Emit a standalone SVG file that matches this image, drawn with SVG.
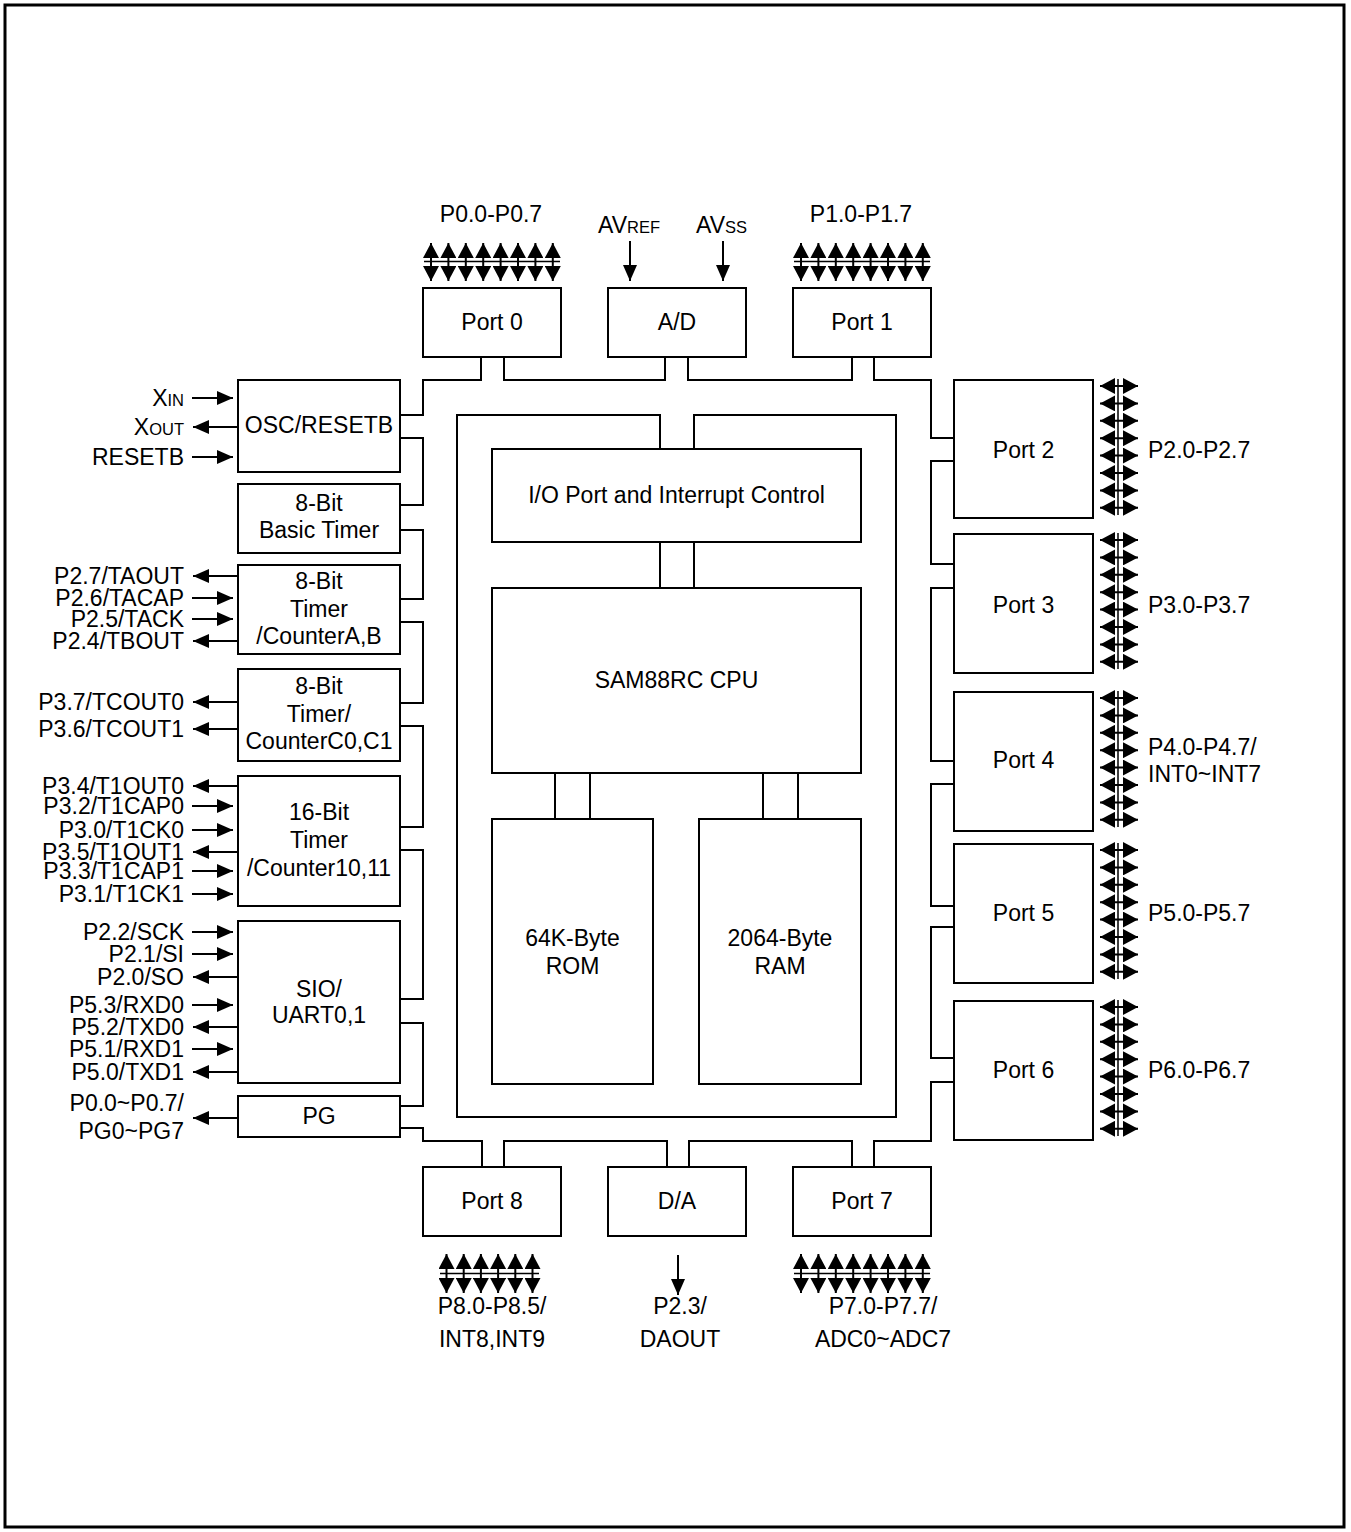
<svg xmlns="http://www.w3.org/2000/svg" width="1351" height="1532" viewBox="0 0 1351 1532">
<style>
text{font-family:"Liberation Sans",Arial,Helvetica,sans-serif;font-size:23px;fill:#000}
.m{text-anchor:middle}
.e{text-anchor:end}
.s{font-size:16.5px}
.box{fill:#fff;stroke:#000;stroke-width:2}
.w{fill:none;stroke:#000;stroke-width:2}
.t{fill:none;stroke:#000;stroke-width:1.5}
.a{stroke:#000;stroke-width:2;fill:none;marker-end:url(#ah)}
.d{stroke:#000;stroke-width:2;fill:none;marker-start:url(#dh);marker-end:url(#dh)}
</style>
<defs>
<marker id="ah" viewBox="0 0 16 14" refX="16" refY="7" markerWidth="16" markerHeight="14" markerUnits="userSpaceOnUse" orient="auto-start-reverse"><path d="M0,0L16,7L0,14z"/></marker>
<marker id="dh" viewBox="0 0 15 16" refX="15" refY="8" markerWidth="15" markerHeight="16" markerUnits="userSpaceOnUse" orient="auto-start-reverse"><path d="M0,0L15,8L0,16z"/></marker>
</defs>
<rect x="5" y="5" width="1339" height="1522" fill="none" stroke="#000" stroke-width="3"/>

<g id="connectors">
<path class="w" d="M481,357V380H423V415H400"/>
<path class="w" d="M504,357V380H665V357"/>
<path class="w" d="M688,357V380H852V357"/>
<path class="w" d="M874,357V380H931V438H954"/>
<path class="w" d="M400,438H423V505H400"/>
<path class="w" d="M400,530H423V599H400"/>
<path class="w" d="M400,622H423V703H400"/>
<path class="w" d="M400,726H423V827H400"/>
<path class="w" d="M400,850H423V999H400"/>
<path class="w" d="M400,1023H423V1106H400"/>
<path class="w" d="M400,1128H423V1141H482V1167"/>
<path class="w" d="M504,1167V1141H667V1167"/>
<path class="w" d="M689,1167V1141H852V1167"/>
<path class="w" d="M874,1167V1141H931V1082H954"/>
<path class="w" d="M954,1058H931V927H954"/>
<path class="w" d="M954,906H931V784H954"/>
<path class="w" d="M954,761H931V588H954"/>
<path class="w" d="M954,564H931V461H954"/>
<path class="w" d="M660,449V415H457V1117H896V415H694V449"/>
<path class="w" d="M660,542V588M694,542V588M555,773V819M590,773V819M763,773V819M798,773V819"/>
</g>

<g id="signals">
<line class="a" x1="630" y1="241" x2="630" y2="281"/>
<line class="a" x1="723" y1="241" x2="723" y2="281"/>
<line class="a" x1="678" y1="1255" x2="678" y2="1295"/>
<line class="a" x1="192" y1="398" x2="233" y2="398"/>
<line class="a" x1="238" y1="427" x2="193" y2="427"/>
<line class="a" x1="192" y1="457" x2="233" y2="457"/>
<line class="a" x1="238" y1="576" x2="193" y2="576"/>
<line class="a" x1="192" y1="598" x2="233" y2="598"/>
<line class="a" x1="192" y1="619" x2="233" y2="619"/>
<line class="a" x1="238" y1="641" x2="193" y2="641"/>
<line class="a" x1="238" y1="702" x2="193" y2="702"/>
<line class="a" x1="238" y1="729" x2="193" y2="729"/>
<line class="a" x1="238" y1="786" x2="193" y2="786"/>
<line class="a" x1="192" y1="806" x2="233" y2="806"/>
<line class="a" x1="192" y1="830" x2="233" y2="830"/>
<line class="a" x1="238" y1="852" x2="193" y2="852"/>
<line class="a" x1="192" y1="871" x2="233" y2="871"/>
<line class="a" x1="192" y1="894" x2="233" y2="894"/>
<line class="a" x1="192" y1="932" x2="233" y2="932"/>
<line class="a" x1="192" y1="954" x2="233" y2="954"/>
<line class="a" x1="238" y1="977" x2="193" y2="977"/>
<line class="a" x1="192" y1="1005" x2="233" y2="1005"/>
<line class="a" x1="238" y1="1027" x2="193" y2="1027"/>
<line class="a" x1="192" y1="1049" x2="233" y2="1049"/>
<line class="a" x1="238" y1="1072" x2="193" y2="1072"/>
<line class="a" x1="238" y1="1118" x2="193" y2="1118"/>
</g>

<g id="bus-p0">
<line class="t" x1="424" y1="261.5" x2="560" y2="261.5"/>
<line class="d" x1="431" y1="243" x2="431" y2="281"/><line class="d" x1="448.4" y1="243" x2="448.4" y2="281"/><line class="d" x1="465.8" y1="243" x2="465.8" y2="281"/><line class="d" x1="483.2" y1="243" x2="483.2" y2="281"/><line class="d" x1="500.6" y1="243" x2="500.6" y2="281"/><line class="d" x1="518" y1="243" x2="518" y2="281"/><line class="d" x1="535.4" y1="243" x2="535.4" y2="281"/><line class="d" x1="552.8" y1="243" x2="552.8" y2="281"/>
</g>
<g id="bus-p1">
<line class="t" x1="794" y1="261.5" x2="930" y2="261.5"/>
<line class="d" x1="801" y1="243" x2="801" y2="281"/><line class="d" x1="818.4" y1="243" x2="818.4" y2="281"/><line class="d" x1="835.8" y1="243" x2="835.8" y2="281"/><line class="d" x1="853.2" y1="243" x2="853.2" y2="281"/><line class="d" x1="870.6" y1="243" x2="870.6" y2="281"/><line class="d" x1="888" y1="243" x2="888" y2="281"/><line class="d" x1="905.4" y1="243" x2="905.4" y2="281"/><line class="d" x1="922.8" y1="243" x2="922.8" y2="281"/>
</g>
<g id="bus-p8">
<line class="t" x1="440" y1="1273.5" x2="539" y2="1273.5"/>
<line class="d" x1="446.5" y1="1254" x2="446.5" y2="1293"/><line class="d" x1="463.7" y1="1254" x2="463.7" y2="1293"/><line class="d" x1="480.9" y1="1254" x2="480.9" y2="1293"/><line class="d" x1="498.1" y1="1254" x2="498.1" y2="1293"/><line class="d" x1="515.3" y1="1254" x2="515.3" y2="1293"/><line class="d" x1="532.5" y1="1254" x2="532.5" y2="1293"/>
</g>
<g id="bus-p7">
<line class="t" x1="794" y1="1273.5" x2="930" y2="1273.5"/>
<line class="d" x1="801" y1="1254" x2="801" y2="1293"/><line class="d" x1="818.4" y1="1254" x2="818.4" y2="1293"/><line class="d" x1="835.8" y1="1254" x2="835.8" y2="1293"/><line class="d" x1="853.2" y1="1254" x2="853.2" y2="1293"/><line class="d" x1="870.6" y1="1254" x2="870.6" y2="1293"/><line class="d" x1="888" y1="1254" x2="888" y2="1293"/><line class="d" x1="905.4" y1="1254" x2="905.4" y2="1293"/><line class="d" x1="922.8" y1="1254" x2="922.8" y2="1293"/>
</g>
<g id="bus-p2">
<line class="t" x1="1118" y1="379" x2="1118" y2="515"/>
<line class="d" x1="1100" y1="386" x2="1138" y2="386"/><line class="d" x1="1100" y1="403.4" x2="1138" y2="403.4"/><line class="d" x1="1100" y1="420.8" x2="1138" y2="420.8"/><line class="d" x1="1100" y1="438.2" x2="1138" y2="438.2"/><line class="d" x1="1100" y1="455.6" x2="1138" y2="455.6"/><line class="d" x1="1100" y1="473" x2="1138" y2="473"/><line class="d" x1="1100" y1="490.4" x2="1138" y2="490.4"/><line class="d" x1="1100" y1="507.8" x2="1138" y2="507.8"/>
</g>
<g id="bus-p3">
<line class="t" x1="1118" y1="533" x2="1118" y2="669"/>
<line class="d" x1="1100" y1="540" x2="1138" y2="540"/><line class="d" x1="1100" y1="557.4" x2="1138" y2="557.4"/><line class="d" x1="1100" y1="574.8" x2="1138" y2="574.8"/><line class="d" x1="1100" y1="592.2" x2="1138" y2="592.2"/><line class="d" x1="1100" y1="609.6" x2="1138" y2="609.6"/><line class="d" x1="1100" y1="627" x2="1138" y2="627"/><line class="d" x1="1100" y1="644.4" x2="1138" y2="644.4"/><line class="d" x1="1100" y1="661.8" x2="1138" y2="661.8"/>
</g>
<g id="bus-p4">
<line class="t" x1="1118" y1="691" x2="1118" y2="827"/>
<line class="d" x1="1100" y1="698" x2="1138" y2="698"/><line class="d" x1="1100" y1="715.4" x2="1138" y2="715.4"/><line class="d" x1="1100" y1="732.8" x2="1138" y2="732.8"/><line class="d" x1="1100" y1="750.2" x2="1138" y2="750.2"/><line class="d" x1="1100" y1="767.6" x2="1138" y2="767.6"/><line class="d" x1="1100" y1="785" x2="1138" y2="785"/><line class="d" x1="1100" y1="802.4" x2="1138" y2="802.4"/><line class="d" x1="1100" y1="819.8" x2="1138" y2="819.8"/>
</g>
<g id="bus-p5">
<line class="t" x1="1118" y1="843" x2="1118" y2="979"/>
<line class="d" x1="1100" y1="850" x2="1138" y2="850"/><line class="d" x1="1100" y1="867.4" x2="1138" y2="867.4"/><line class="d" x1="1100" y1="884.8" x2="1138" y2="884.8"/><line class="d" x1="1100" y1="902.2" x2="1138" y2="902.2"/><line class="d" x1="1100" y1="919.6" x2="1138" y2="919.6"/><line class="d" x1="1100" y1="937" x2="1138" y2="937"/><line class="d" x1="1100" y1="954.4" x2="1138" y2="954.4"/><line class="d" x1="1100" y1="971.8" x2="1138" y2="971.8"/>
</g>
<g id="bus-p6">
<line class="t" x1="1118" y1="1000" x2="1118" y2="1136"/>
<line class="d" x1="1100" y1="1007" x2="1138" y2="1007"/><line class="d" x1="1100" y1="1024.4" x2="1138" y2="1024.4"/><line class="d" x1="1100" y1="1041.8" x2="1138" y2="1041.8"/><line class="d" x1="1100" y1="1059.2" x2="1138" y2="1059.2"/><line class="d" x1="1100" y1="1076.6" x2="1138" y2="1076.6"/><line class="d" x1="1100" y1="1094" x2="1138" y2="1094"/><line class="d" x1="1100" y1="1111.4" x2="1138" y2="1111.4"/><line class="d" x1="1100" y1="1128.8" x2="1138" y2="1128.8"/>
</g>

<g id="port0"><rect class="box" x="423" y="288" width="138" height="69"/><text class="m" x="492" y="330">Port 0</text></g>
<g id="ad"><rect class="box" x="608" y="288" width="138" height="69"/><text class="m" x="677" y="330">A/D</text></g>
<g id="port1"><rect class="box" x="793" y="288" width="138" height="69"/><text class="m" x="862" y="330">Port 1</text></g>
<g id="port8"><rect class="box" x="423" y="1167" width="138" height="69"/><text class="m" x="492" y="1209">Port 8</text></g>
<g id="da"><rect class="box" x="608" y="1167" width="138" height="69"/><text class="m" x="677" y="1209">D/A</text></g>
<g id="port7"><rect class="box" x="793" y="1167" width="138" height="69"/><text class="m" x="862" y="1209">Port 7</text></g>

<g id="osc"><rect class="box" x="238" y="380" width="162" height="92"/><text class="m" x="319" y="433">OSC/RESETB</text></g>
<g id="basic-timer"><rect class="box" x="238" y="484" width="162" height="69"/><text class="m" x="319" y="511">8-Bit</text><text class="m" x="319" y="538">Basic Timer</text></g>
<g id="timer-ab"><rect class="box" x="238" y="565" width="162" height="89"/><text class="m" x="319" y="589">8-Bit</text><text class="m" x="319" y="617">Timer</text><text class="m" x="319" y="644">/CounterA,B</text></g>
<g id="timer-c"><rect class="box" x="238" y="669" width="162" height="92"/><text class="m" x="319" y="694">8-Bit</text><text class="m" x="319" y="722">Timer/</text><text class="m" x="319" y="749">CounterC0,C1</text></g>
<g id="timer-16"><rect class="box" x="238" y="776" width="162" height="130"/><text class="m" x="319" y="820">16-Bit</text><text class="m" x="319" y="848">Timer</text><text class="m" x="319" y="876">/Counter10,11</text></g>
<g id="sio"><rect class="box" x="238" y="921" width="162" height="162"/><text class="m" x="319" y="997">SIO/</text><text class="m" x="319" y="1023">UART0,1</text></g>
<g id="pg"><rect class="box" x="238" y="1096" width="162" height="41"/><text class="m" x="319" y="1124">PG</text></g>

<g id="port2"><rect class="box" x="954" y="380" width="139" height="138"/><text class="m" x="1023.5" y="458">Port 2</text></g>
<g id="port3"><rect class="box" x="954" y="534" width="139" height="139"/><text class="m" x="1023.5" y="613">Port 3</text></g>
<g id="port4"><rect class="box" x="954" y="692" width="139" height="139"/><text class="m" x="1023.5" y="768">Port 4</text></g>
<g id="port5"><rect class="box" x="954" y="844" width="139" height="139"/><text class="m" x="1023.5" y="921">Port 5</text></g>
<g id="port6"><rect class="box" x="954" y="1001" width="139" height="139"/><text class="m" x="1023.5" y="1078">Port 6</text></g>

<g id="io-ctrl"><rect class="box" x="492" y="449" width="369" height="93"/><text class="m" x="676.5" y="503">I/O Port and Interrupt Control</text></g>
<g id="cpu"><rect class="box" x="492" y="588" width="369" height="185"/><text class="m" x="676.5" y="688">SAM88RC CPU</text></g>
<g id="rom"><rect class="box" x="492" y="819" width="161" height="265"/><text class="m" x="572.5" y="946">64K-Byte</text><text class="m" x="572.5" y="974">ROM</text></g>
<g id="ram"><rect class="box" x="699" y="819" width="162" height="265"/><text class="m" x="780" y="946">2064-Byte</text><text class="m" x="780" y="974">RAM</text></g>

<g id="labels">
<text class="m" x="491" y="222">P0.0-P0.7</text>
<text class="m" x="861" y="222">P1.0-P1.7</text>
<text x="598" y="233">AV<tspan class="s">REF</tspan></text>
<text x="696" y="233">AV<tspan class="s">SS</tspan></text>
<text class="e" x="184" y="406">X<tspan class="s">IN</tspan></text>
<text class="e" x="184" y="435">X<tspan class="s">OUT</tspan></text>
<text class="e" x="184" y="465">RESETB</text>
<text class="e" x="184" y="584">P2.7/TAOUT</text>
<text class="e" x="184" y="606">P2.6/TACAP</text>
<text class="e" x="184" y="627">P2.5/TACK</text>
<text class="e" x="184" y="649">P2.4/TBOUT</text>
<text class="e" x="184" y="710">P3.7/TCOUT0</text>
<text class="e" x="184" y="737">P3.6/TCOUT1</text>
<text class="e" x="184" y="794">P3.4/T1OUT0</text>
<text class="e" x="184" y="814">P3.2/T1CAP0</text>
<text class="e" x="184" y="838">P3.0/T1CK0</text>
<text class="e" x="184" y="860">P3.5/T1OUT1</text>
<text class="e" x="184" y="879">P3.3/T1CAP1</text>
<text class="e" x="184" y="902">P3.1/T1CK1</text>
<text class="e" x="184" y="940">P2.2/SCK</text>
<text class="e" x="184" y="962">P2.1/SI</text>
<text class="e" x="184" y="985">P2.0/SO</text>
<text class="e" x="184" y="1013">P5.3/RXD0</text>
<text class="e" x="184" y="1035">P5.2/TXD0</text>
<text class="e" x="184" y="1057">P5.1/RXD1</text>
<text class="e" x="184" y="1080">P5.0/TXD1</text>
<text class="e" x="184" y="1111">P0.0~P0.7/</text>
<text class="e" x="184" y="1139">PG0~PG7</text>
<text x="1148" y="458">P2.0-P2.7</text>
<text x="1148" y="613">P3.0-P3.7</text>
<text x="1148" y="755">P4.0-P4.7/</text>
<text x="1148" y="782">INT0~INT7</text>
<text x="1148" y="921">P5.0-P5.7</text>
<text x="1148" y="1078">P6.0-P6.7</text>
<text class="m" x="492" y="1314">P8.0-P8.5/</text>
<text class="m" x="492" y="1347">INT8,INT9</text>
<text class="m" x="680" y="1314">P2.3/</text>
<text class="m" x="680" y="1347">DAOUT</text>
<text class="m" x="883" y="1314">P7.0-P7.7/</text>
<text class="m" x="883" y="1347">ADC0~ADC7</text>
</g>
</svg>
